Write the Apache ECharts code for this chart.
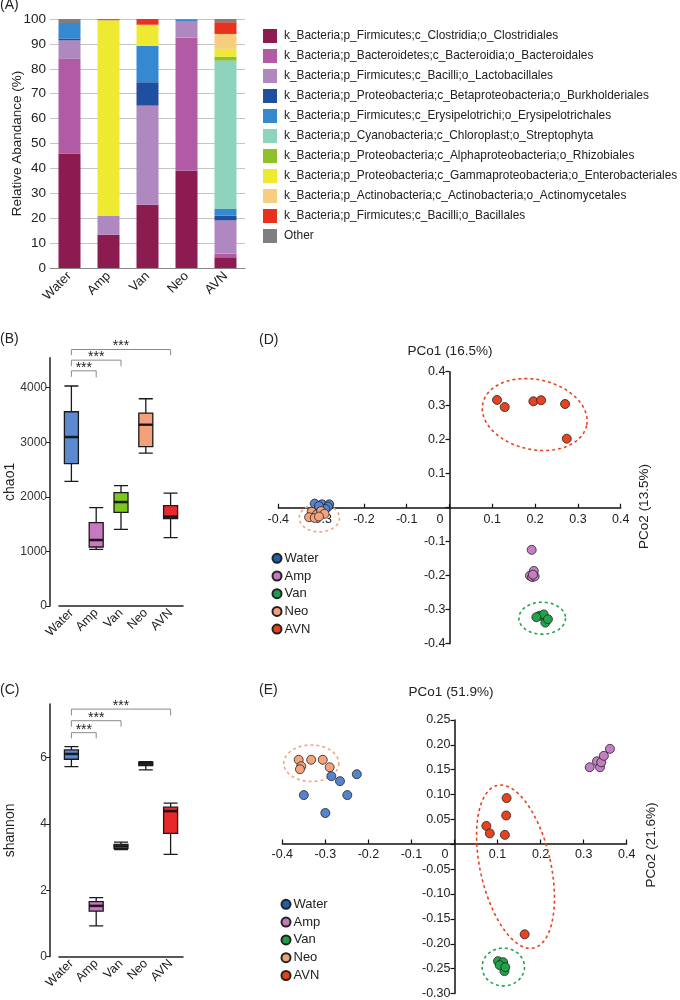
<!DOCTYPE html>
<html>
<head>
<meta charset="utf-8">
<script src="https://cdn.jsdelivr.net/npm/echarts@6/dist/echarts.min.js"></script>
<style>
html, body { margin: 0; padding: 0; background: #fff; }
#main { width: 680px; height: 1000px; }
</style>
</head>
<body>
<div id="main"></div>
<script>
// groups on every panel
const groups = ['Water', 'Amp', 'Van', 'Neo', 'AVN'];

// (A) relative abundance, one row per taxon, columns follow groups
const taxa = [
    'k_Bacteria;p_Firmicutes;c_Clostridia;o_Clostridiales',
    'k_Bacteria;p_Bacteroidetes;c_Bacteroidia;o_Bacteroidales',
    'k_Bacteria;p_Firmicutes;c_Bacilli;o_Lactobacillales',
    'k_Bacteria;p_Proteobacteria;c_Betaproteobacteria;o_Burkholderiales',
    'k_Bacteria;p_Firmicutes;c_Erysipelotrichi;o_Erysipelotrichales',
    'k_Bacteria;p_Cyanobacteria;c_Chloroplast;o_Streptophyta',
    'k_Bacteria;p_Proteobacteria;c_Alphaproteobacteria;o_Rhizobiales',
    'k_Bacteria;p_Proteobacteria;c_Gammaproteobacteria;o_Enterobacteriales',
    'k_Bacteria;p_Actinobacteria;c_Actinobacteria;o_Actinomycetales',
    'k_Bacteria;p_Firmicutes;c_Bacilli;o_Bacillales',
    'Other'
];
const abundance = [
    [46, 13.4, 25.4, 39.1, 4.3],
    [38, 0, 0, 53.5, 1.5],
    [7.4, 7.6, 39.8, 6.6, 13.3],
    [0.8, 0, 9.4, 0, 1.9],
    [6.2, 0, 14.6, 0.5, 2.7],
    [0, 0, 0, 0, 59.6],
    [0, 0, 0, 0, 1.6],
    [0, 78.5, 8.5, 0, 3.1],
    [0, 0, 0, 0, 6],
    [0, 0.4, 2.3, 0, 4.7],
    [1.6, 0.1, 0, 0.3, 1.3]
];

// (B) chao1 and (C) shannon: [min, Q1, median, Q3, max]
const chao1Box = [
    [2284, 2608, 3096, 3560, 4031],
    [1038, 1081, 1209, 1527, 1802],
    [1405, 1716, 1905, 2076, 2205],
    [2803, 2919, 3322, 3536, 3798],
    [1252, 1600, 1637, 1838, 2070]
];
const chao1Ticks = [0, 1000, 2000, 3000, 4000];
const shannonBox = [
    [5.72, 5.94, 6.10, 6.22, 6.32],
    [0.93, 1.37, 1.53, 1.66, 1.78],
    [3.22, 3.26, 3.32, 3.38, 3.45],
    [5.62, 5.75, 5.80, 5.85, 5.87],
    [3.08, 3.71, 4.38, 4.50, 4.62]
];
const shannonTicks = [0, 2, 4, 6];
// significance brackets: [from group, to group, bar level, left foot, right foot]
const chao1Brackets = [[0, 1, 4310, 4200, 4190], [0, 2, 4505, 4395, 4395], [0, 4, 4700, 4597, 4597]];
const shannonBrackets = [[0, 1, 6.74, 6.57, 6.57], [0, 2, 7.10, 6.92, 6.92], [0, 4, 7.45, 7.26, 7.26]];

// (D) PCoA, one list per group
const pcoaD = [
    [[-0.315, 0.012], [-0.298, 0.010], [-0.281, 0.010], [-0.284, 0.003], [-0.290, -0.004], [-0.305, 0.005]],
    [[0.192, -0.124], [0.197, -0.186], [0.188, -0.200], [0.193, -0.204], [0.199, -0.202], [0.195, -0.197]],
    [[0.210, -0.318], [0.220, -0.314], [0.224, -0.338], [0.230, -0.328], [0.203, -0.322]],
    [[-0.322, -0.012], [-0.310, -0.020], [-0.300, -0.010], [-0.292, -0.018], [-0.328, -0.028], [-0.315, -0.030], [-0.305, -0.026]],
    [[0.111, 0.317], [0.129, 0.296], [0.196, 0.313], [0.214, 0.316], [0.270, 0.305], [0.274, 0.203]]
];
// ellipses: [cx, cy, rx, ry, rotation deg], group index
const ellipsesD = [[-0.304, -0.030, 0.047, 0.041, 0], [0.199, 0.274, 0.124, 0.103, 12], [0.2166, -0.325, 0.0545, 0.047, 0]];
const ellipsesDGroup = [3, 4, 2];

// (E) PCoA
const pcoaE = [
    [[-0.286, 0.137], [-0.266, 0.127], [-0.227, 0.141], [-0.350, 0.099], [-0.249, 0.099], [-0.300, 0.063]],
    [[0.314, 0.155], [0.331, 0.167], [0.338, 0.155], [0.341, 0.165], [0.347, 0.178], [0.361, 0.192]],
    [[0.101, -0.235], [0.113, -0.237], [0.116, -0.255], [0.105, -0.243], [0.118, -0.247]],
    [[-0.362, 0.170], [-0.356, 0.157], [-0.359, 0.151], [-0.333, 0.170], [-0.306, 0.170], [-0.290, 0.155]],
    [[0.121, 0.093], [0.120, 0.058], [0.074, 0.037], [0.082, 0.022], [0.117, 0.019], [0.163, -0.181]]
];
const ellipsesE = [[-0.3326, 0.163, 0.0639, 0.0367, 0], [0.1417, -0.045, 0.082, 0.1676, -12.6], [0.1134, -0.2467, 0.0492, 0.038, 0]];
const ellipsesEGroup = [3, 4, 2];

const taxaColors = ['#8c1c50', '#b05ba3', '#b088c0', '#1f4f9f', '#3589d0', '#8dd3be',
    '#8dc02a', '#eeea31', '#f8cd80', '#e8321e', '#7f7f7f'];
const boxColors = ['#5b8ad0', '#c879c0', '#7dc820', '#f4a07a', '#e8282a'];
const pointColors = ['#5584cc', '#c67dc4', '#22a34a', '#f4a37c', '#e8431e'];
const legendColors = ['#1e5fa8', '#c27bc0', '#1e9e4a', '#f0a07a', '#e8401c'];

const FONT = '"Liberation Sans", Arial, sans-serif';

const gridA = { left: 50, top: 19, width: 195, height: 249 };
const gridB = { left: 59, top: 357.7, width: 124, height: 248.3 };
const gridC = { left: 59, top: 704.1, width: 124, height: 252.6 };
const gridD = { left: 278.3, top: 371.7, width: 342.4, height: 272 };
const gridE = { left: 282.3, top: 720, width: 344.4, height: 275 };

function bracketItem(params, api) {
    const a = api.coord([api.value(0), api.value(2)]);
    const b = api.coord([api.value(1), api.value(2)]);
    const l = api.coord([api.value(0), api.value(3)]);
    const r = api.coord([api.value(1), api.value(4)]);
    return {
        type: 'group',
        children: [{
            type: 'polyline',
            shape: { points: [l, a, b, r] },
            style: { stroke: '#8a8a8a', lineWidth: 1, fill: null }
        }, {
            type: 'text',
            x: (a[0] + b[0]) / 2,
            y: a[1] + 4,
            style: {
                text: '***', fill: '#222', font: '14px ' + FONT,
                align: 'center', verticalAlign: 'bottom', textAlign: 'center', textVerticalAlign: 'bottom'
            }
        }]
    };
}

function ellipseItem(params, api) {
    const c = api.coord([api.value(0), api.value(1)]);
    const s = api.size([api.value(2), api.value(3)]);
    const rot = api.value(4) * Math.PI / 180;
    const pts = [];
    for (let i = 0; i <= 90; i++) {
        const t = i / 90 * Math.PI * 2;
        const x = s[0] * Math.cos(t), y = s[1] * Math.sin(t);
        pts.push([c[0] + x * Math.cos(rot) - y * Math.sin(rot), c[1] + x * Math.sin(rot) + y * Math.cos(rot)]);
    }
    return {
        type: 'polyline',
        shape: { points: pts },
        style: { stroke: api.visual('color'), fill: null, lineWidth: 1.6, lineDash: [3, 3] }
    };
}

function boxAxisX(grid) {
    return {
        gridIndex: grid, type: 'category', data: groups,
        axisLine: { lineStyle: { color: '#222', width: 1.5 } },
        axisTick: { show: false },
        axisLabel: { rotate: 45, fontSize: 12.5, color: '#222', margin: 5 }
    };
}
function boxAxisY(grid, max, ticks, name) {
    return {
        gridIndex: grid, type: 'value', min: 0, max: max, offset: 9,
        axisLine: { show: true, lineStyle: { color: '#222', width: 1.5 } },
        axisTick: { show: true, length: 4, customValues: ticks, lineStyle: { color: '#222' } },
        axisLabel: { customValues: ticks, fontSize: 12, color: '#333', margin: 3, formatter: v => String(v) },
        splitLine: { show: false },
        name: name, nameLocation: 'middle', nameGap: 33, nameRotate: 90, nameMoveOverlap: false,
        nameTextStyle: { fontSize: 14, color: '#222' }
    };
}
// crossing axes: the axis is moved from the grid edge to the zero of the other axis
function pcoaAxis(grid, g, min, max, interval, digits, isX, otherMin, otherMax) {
    const span = isX ? g.height : g.width;
    return {
        gridIndex: grid, type: 'value', min: min, max: max, interval: interval,
        offset: -span * (0 - otherMin) / (otherMax - otherMin),
        axisLine: { show: true, onZero: false, lineStyle: { color: '#111', width: 1.5 } },
        axisTick: { show: true, inside: isX, length: 4, lineStyle: { color: '#111', width: 1.2 } },
        axisLabel: {
            fontSize: 12.5, color: '#222', margin: isX ? 5 : 4,
            formatter: v => {
                if (Math.abs(v) < 1e-9) return isX ? '{z|0}' : '';
                return v.toFixed(digits);
            },
            rich: { z: { fontSize: 12.5, color: '#222', padding: [0, 19, 0, 0] } }
        },
        splitLine: { show: false }
    };
}

const series = [];
taxa.forEach((name, i) => {
    series.push({
        name: name, type: 'bar', stack: 'abund', xAxisIndex: 0, yAxisIndex: 0,
        barWidth: 22, itemStyle: { color: taxaColors[i] }, data: abundance[i]
    });
});
[[chao1Box, chao1Brackets, 1], [shannonBox, shannonBrackets, 2]].forEach(([boxes, brackets, g]) => {
    series.push({
        name: 'box' + g, type: 'boxplot', xAxisIndex: g, yAxisIndex: g, boxWidth: [14, 14],
        itemStyle: { borderColor: '#1a1a1a', borderWidth: 1.3 },
        data: boxes.map((b, i) => ({ value: b, itemStyle: { color: boxColors[i] } }))
    });
    series.push({
        name: 'median' + g, type: 'scatter', xAxisIndex: g, yAxisIndex: g, z: 5,
        symbol: 'rect', symbolSize: [14, 2.6], itemStyle: { color: '#111' },
        data: boxes.map((b, i) => [i, b[2]])
    });
    series.push({
        name: 'sig' + g, type: 'custom', xAxisIndex: g, yAxisIndex: g, clip: false, z: 5,
        encode: { x: 0, y: 2 }, renderItem: bracketItem, data: brackets
    });
});
[[pcoaD, ellipsesD, ellipsesDGroup, 3], [pcoaE, ellipsesE, ellipsesEGroup, 4]].forEach(([pts, ells, eg, g]) => {
    series.push({
        name: 'ell' + g, type: 'custom', xAxisIndex: g, yAxisIndex: g, clip: false, z: 1,
        renderItem: ellipseItem,
        data: ells.map((e, i) => ({ value: e, itemStyle: { color: pointColors[eg[i]] } }))
    });
    groups.forEach((name, i) => {
        series.push({
            name: name, type: 'scatter', xAxisIndex: g, yAxisIndex: g, symbolSize: 9,
            itemStyle: { color: pointColors[i], borderColor: '#222', borderWidth: 0.8, opacity: 1 },
            data: pts[i]
        });
    });
});

const groupLegend = groups.map((g, i) => ({ name: g, itemStyle: { color: legendColors[i] } }));

function label(text, x, y, size) {
    return {
        type: 'text', x: x, y: y,
        style: {
            text: text, fill: '#222', font: size + 'px ' + FONT,
            align: 'left', verticalAlign: 'middle', textAlign: 'left', textVerticalAlign: 'middle'
        }
    };
}
function centered(text, x, y, size, rotation) {
    const el = label(text, x, y, size);
    el.style.align = el.style.textAlign = 'center';
    if (rotation) el.rotation = rotation;
    return el;
}

const option = {
    animation: false,
    textStyle: { fontFamily: FONT },
    grid: [gridA, gridB, gridC, gridD, gridE],
    xAxis: [
        {
            gridIndex: 0, type: 'category', data: groups,
            axisLine: { lineStyle: { color: '#888' } },
            axisTick: { show: false },
            axisLabel: { rotate: 45, fontSize: 13, color: '#222', margin: 6 }
        },
        boxAxisX(1),
        boxAxisX(2),
        pcoaAxis(3, gridD, -0.4, 0.4, 0.1, 1, true, -0.4, 0.4),
        pcoaAxis(4, gridE, -0.4, 0.4, 0.1, 1, true, -0.3, 0.25)
    ],
    yAxis: [
        {
            gridIndex: 0, type: 'value', min: 0, max: 100, interval: 10,
            axisLine: { show: false }, axisTick: { show: false },
            axisLabel: { fontSize: 13.5, color: '#222', margin: 4 },
            splitLine: { lineStyle: { color: '#c4c4c4', width: 1 } },
            name: 'Relative Abandance (%)', nameLocation: 'middle', nameGap: 26, nameRotate: 90,
            nameMoveOverlap: false,
            nameTextStyle: { fontSize: 13.5, color: '#222' }
        },
        boxAxisY(1, 4550, chao1Ticks, 'chao1'),
        boxAxisY(2, 7.6, shannonTicks, 'shannon'),
        pcoaAxis(3, gridD, -0.4, 0.4, 0.1, 1, false, -0.4, 0.4),
        pcoaAxis(4, gridE, -0.3, 0.25, 0.05, 2, false, -0.4, 0.4)
    ],
    legend: [
        {
            data: taxa, orient: 'vertical', left: 263, top: 29, icon: 'rect', padding: 0,
            itemWidth: 14, itemHeight: 14, itemGap: 6, selectedMode: false,
            textStyle: { fontSize: 11.9, color: '#222', lineHeight: 14, padding: [0, 0, 0, 2] }
        },
        {
            data: groupLegend, orient: 'vertical', left: 271.5, top: 550.8, icon: 'circle', padding: 0,
            itemWidth: 9, itemHeight: 9, itemGap: 2.7, selectedMode: false,
            textStyle: { fontSize: 13, color: '#222', lineHeight: 15, padding: [0, 0, 0, -2] }
        },
        {
            data: groupLegend, orient: 'vertical', left: 280.5, top: 896.8, icon: 'circle', padding: 0,
            itemWidth: 9, itemHeight: 9, itemGap: 2.8, selectedMode: false,
            textStyle: { fontSize: 13, color: '#222', lineHeight: 15, padding: [0, 0, 0, -2] }
        }
    ],
    graphic: [
        label('(A)', 0, 5, 14),
        label('(B)', 0, 339, 14),
        label('(C)', 0, 690, 14),
        label('(D)', 259, 340, 14),
        label('(E)', 259, 690, 14),
        centered('PCo1 (16.5%)', 450, 351, 13.5),
        centered('PCo1 (51.9%)', 451, 692, 13.5),
        centered('PCo2 (13.5%)', 644, 506.5, 13.5, Math.PI / 2),
        centered('PCo2 (21.6%)', 651, 845, 13.5, Math.PI / 2)
    ],
    series: series
};

const chart = echarts.init(document.getElementById('main'));
chart.setOption(option);
</script>
</body>
</html>
